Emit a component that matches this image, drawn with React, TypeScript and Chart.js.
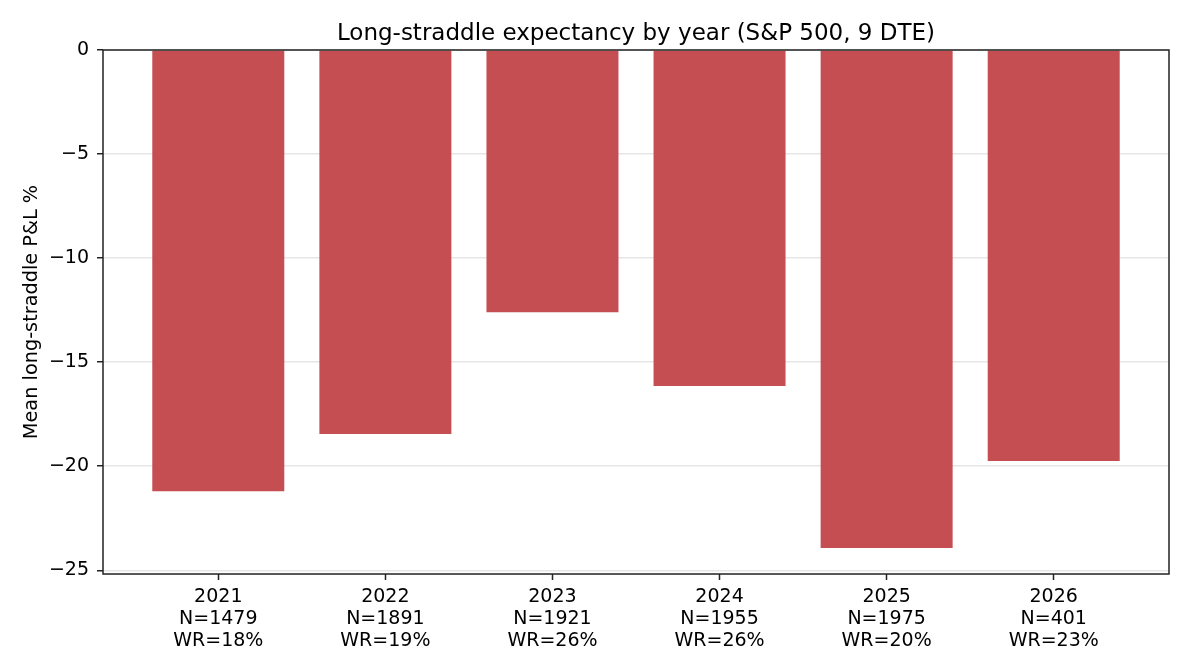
import React, { useEffect, useRef } from "react";
import { Chart, registerables } from "chart.js";

Chart.register(...registerables);

const years = ["2021", "2022", "2023", "2024", "2025", "2026"];
const counts = [1479, 1891, 1921, 1955, 1975, 401];
const winRates = [18, 19, 26, 26, 20, 23];
const meanPnl = [-21.2, -18.45, -12.6, -16.15, -23.93, -19.75];
const yTicks = [0, -5, -10, -15, -20, -25];

const TITLE = "Long-straddle expectancy by year (S&P 500, 9 DTE)";
const Y_LABEL = "Mean long-straddle P&L %";
const FONT = "'DejaVu Sans', sans-serif";
const BAR_COLOR = "#C44E52";

const fmt = (v: number) => (v < 0 ? "\u2212" + Math.abs(v) : String(v));

export default function App() {
  const ref = useRef<HTMLCanvasElement | null>(null);

  useEffect(() => {
    const canvas = ref.current;
    if (!canvas) return;

    const decor = {
      id: "decor",
      afterDraw(chart: any) {
        const { ctx, chartArea } = chart;
        const { left, right, top, bottom } = chartArea;
        ctx.save();
        ctx.strokeStyle = "#222";
        ctx.lineWidth = 1.5;
        ctx.strokeRect(left, top, right - left, bottom - top);
        ctx.fillStyle = "#000";
        ctx.font = `23px ${FONT}`;
        ctx.textAlign = "center";
        ctx.textBaseline = "alphabetic";
        ctx.fillText(TITLE, (left + right) / 2, 39.5);
        ctx.translate(37, (top + bottom) / 2);
        ctx.rotate(-Math.PI / 2);
        ctx.font = `19.3px ${FONT}`;
        ctx.fillText(Y_LABEL, 0, 0);
        ctx.restore();
      },
    };

    const chart = new Chart(canvas, {
      type: "bar",
      data: {
        datasets: [
          {
            data: meanPnl.map((v, i) => ({ x: i, y: v })),
            backgroundColor: BAR_COLOR,
            borderWidth: 0,
            barPercentage: 0.79,
            categoryPercentage: 1.0,
          },
        ],
      },
      options: {
        responsive: false,
        devicePixelRatio: 1,
        animation: false,
        layout: { padding: { left: 0, right: 21, top: 50, bottom: 0 } },
        plugins: {
          legend: { display: false },
          title: { display: false },
          tooltip: { enabled: false },
        },
        scales: {
          x: {
            type: "linear",
            min: -0.69,
            max: 5.69,
            offset: false,
            grid: {
              offset: false,
              drawOnChartArea: false,
              drawTicks: true,
              tickLength: 6,
              tickColor: "#222",
              tickWidth: 1.5,
            },
            border: { display: false },
            afterBuildTicks: (scale: any) => {
              scale.ticks = years.map((_, i) => ({ value: i }));
            },
            afterFit: (scale: any) => {
              scale.height = 98;
            },
            ticks: {
              autoSkip: false,
              maxRotation: 0,
              minRotation: 0,
              padding: 6,
              color: "#000",
              font: { family: FONT, size: 19, lineHeight: "22px" },
              callback: (v: any) => {
                const i = Math.round(Number(v));
                return [years[i], `N=${counts[i]}`, `WR=${winRates[i]}%`];
              },
            },
          },
          y: {
            type: "linear",
            min: -25.18,
            max: 0,
            grid: {
              color: "#e6e6e6",
              lineWidth: 1.5,
              drawTicks: true,
              tickLength: 6,
              tickColor: "#222",
              tickWidth: 1.5,
            },
            border: { display: false },
            afterBuildTicks: (scale: any) => {
              scale.ticks = yTicks.map((v) => ({ value: v }));
            },
            afterFit: (scale: any) => {
              scale.width = 103;
            },
            ticks: {
              padding: 8,
              color: "#000",
              font: { family: FONT, size: 19 },
              callback: (v: any) => fmt(Number(v)),
            },
          },
        },
      },
      plugins: [decor],
    } as any);

    return () => chart.destroy();
  }, []);

  return (
    <canvas
      ref={ref}
      width={1190}
      height={672}
      style={{ position: "absolute", left: 0, top: 0, width: 1190, height: 672 }}
    />
  );
}
